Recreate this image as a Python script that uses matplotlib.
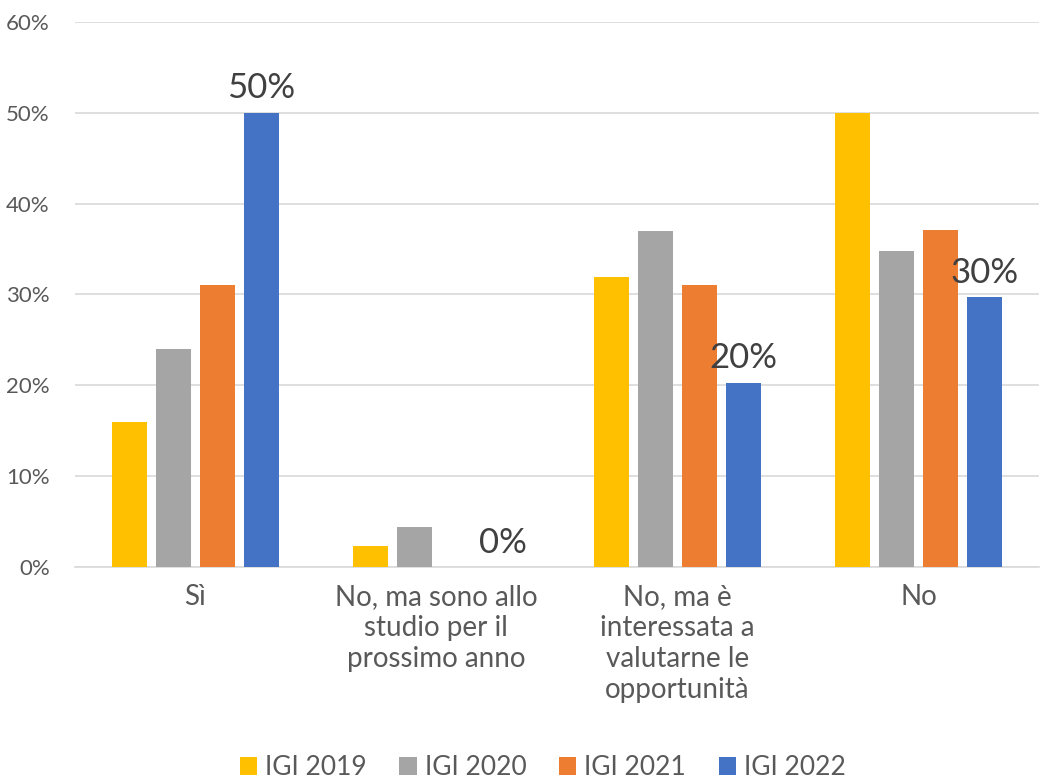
import matplotlib
matplotlib.use("Agg")
import matplotlib.pyplot as plt
from matplotlib.ticker import FuncFormatter
import numpy as np

categories = ["Sì", "No, ma sono allo\nstudio per il\nprossimo anno",
              "No, ma è\ninteressata a\nvalutarne le\nopportunità", "No"]
series_names = ["IGI 2019", "IGI 2020", "IGI 2021", "IGI 2022"]
igi_2019 = [16.0, 2.3, 31.9, 50.0]
igi_2020 = [24.0, 4.4, 37.0, 34.8]
igi_2021 = [31.0, 0.0, 31.0, 37.1]
igi_2022 = [50.0, 0.0, 20.3, 29.7]
labels_2022 = ["50%", "0%", "20%", "30%"]
colors = ["#FFC000", "#A5A5A5", "#ED7D31", "#4472C4"]

plt.rcParams['font.family'] = ['Lato', 'DejaVu Sans']

fig = plt.figure(figsize=(10.4, 7.8), dpi=100)
ax = fig.add_axes([0.072, 0.273, 0.927, 0.699])

x = np.arange(len(categories))
step = 0.183
width = 0.145
all_series = [igi_2019, igi_2020, igi_2021, igi_2022]
bars = []
for i, (vals, name, c) in enumerate(zip(all_series, series_names, colors)):
    b = ax.bar(x + (i - 1.5) * step, vals, width=width, color=c, label=name, zorder=3)
    bars.append(b)

for rect, lab in zip(bars[3], labels_2022):
    ax.annotate(lab, (rect.get_x() + rect.get_width() / 2, rect.get_height()),
                xytext=(0, 6), textcoords="offset points", ha="center", va="bottom",
                fontsize=25, color="#404040", zorder=4)

ax.set_xlim(-0.5, 3.5)
ax.set_ylim(0, 60)
ax.set_yticks(np.arange(0, 61, 10))
ax.yaxis.set_major_formatter(FuncFormatter(lambda v, p: f"{int(v)}%"))
ax.grid(axis="y", color="#D9D9D9", linewidth=1.2, zorder=0)
for s in ["top", "right", "left"]:
    ax.spines[s].set_visible(False)
ax.spines["bottom"].set_color("#D9D9D9")
ax.spines["bottom"].set_linewidth(1.2)
ax.set_xticks(x)
ax.set_xticklabels(categories, fontsize=20, color="#595959", linespacing=1.25, va="top")
ax.tick_params(axis="x", length=0, pad=12)
ax.tick_params(axis="y", length=0, labelsize=16, labelcolor="#595959", pad=18)

fig.legend(handles=bars, labels=series_names, loc="center", bbox_to_anchor=(0.522, 0.016),
           ncol=4, frameon=False, fontsize=19, labelcolor="#595959",
           handlelength=0.65, handleheight=0.65, handletextpad=0.3, columnspacing=1.25)

fig.savefig("out.png", dpi=100)
